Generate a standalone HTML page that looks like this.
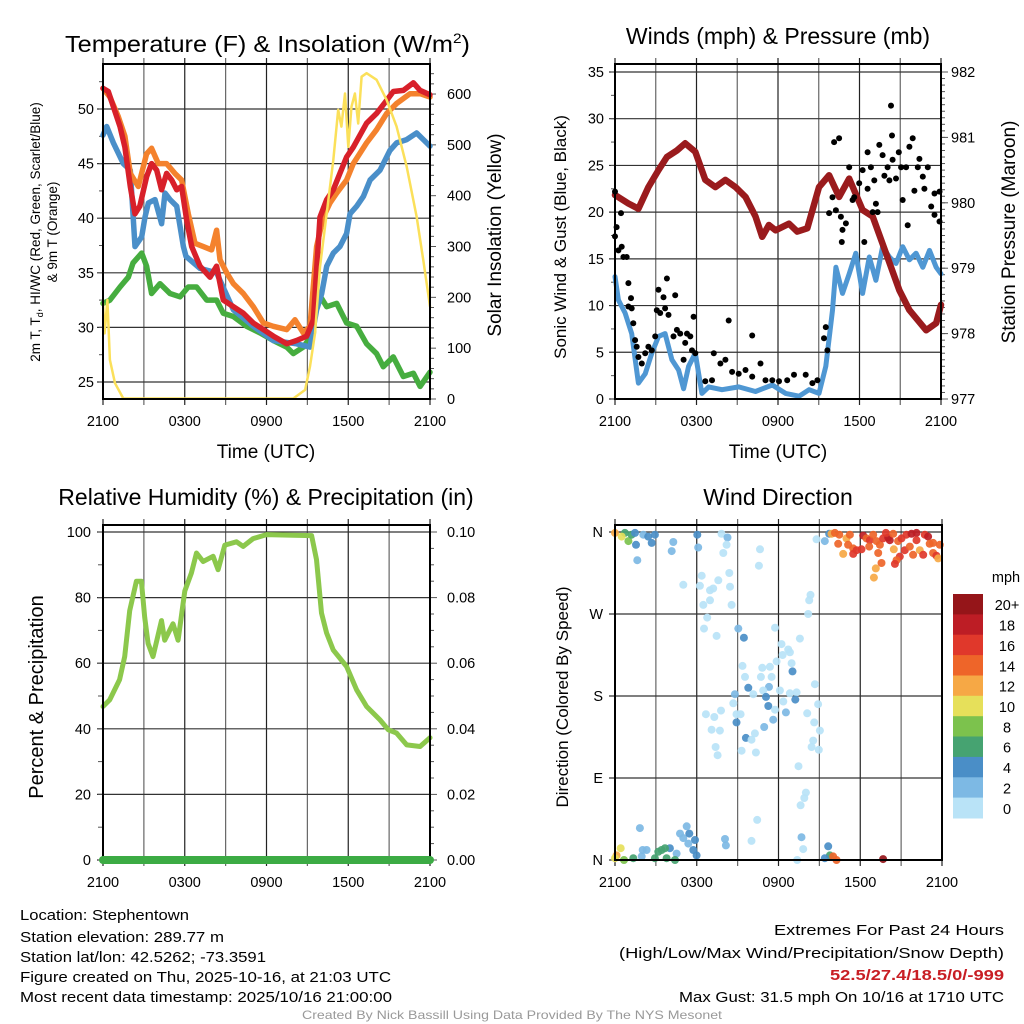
<!DOCTYPE html>
<html><head><meta charset="utf-8"><style>
html,body{margin:0;padding:0;background:#fff;}
svg{display:block;font-family:"Liberation Sans",Arial,sans-serif;}
</style></head><body>
<svg id="chart" width="1024" height="1024" viewBox="0 0 1024 1024" xmlns="http://www.w3.org/2000/svg">
<rect width="1024" height="1024" fill="#fff"/>
<g id="p1"></g>
<g id="p2"></g>
<g id="p3"></g>
<g id="p4"></g>

<text x="65" y="52" font-size="23" textLength="405" lengthAdjust="spacingAndGlyphs">Temperature (F) &amp; Insolation (W/m<tspan font-size="14" dy="-9">2</tspan><tspan dy="9">)</tspan></text>
<text x="778" y="44" font-size="23" text-anchor="middle">Winds (mph) &amp; Pressure (mb)</text>
<text x="266" y="505" font-size="23" text-anchor="middle">Relative Humidity (%) &amp; Precipitation (in)</text>
<text x="778" y="505" font-size="23" text-anchor="middle">Wind Direction</text>

<text x="266" y="458" font-size="19" text-anchor="middle">Time (UTC)</text>
<text x="778" y="458" font-size="19" text-anchor="middle">Time (UTC)</text>

<text transform="translate(40,232) rotate(-90)" font-size="13.5" text-anchor="middle">2m T, T<tspan font-size="9" dy="3">d</tspan><tspan dy="-3">, HI/WC (Red, Green, Scarlet/Blue)</tspan></text>
<text transform="translate(57,232) rotate(-90)" font-size="13.5" text-anchor="middle">&amp; 9m T (Orange)</text>
<text transform="translate(501,235) rotate(-90)" font-size="19" text-anchor="middle">Solar Insolation (Yellow)</text>
<text transform="translate(566,237) rotate(-90)" font-size="17" text-anchor="middle">Sonic Wind &amp; Gust (Blue, Black)</text>
<text transform="translate(1015,232) rotate(-90)" font-size="19" text-anchor="middle">Station Pressure (Maroon)</text>
<text transform="translate(43,697) rotate(-90)" font-size="20" text-anchor="middle">Percent &amp; Precipitation</text>
<text transform="translate(568,697) rotate(-90)" font-size="17" text-anchor="middle">Direction (Colored By Speed)</text>

<g font-size="15">
<text x="20" y="920" textLength="169" lengthAdjust="spacingAndGlyphs">Location: Stephentown</text>
<text x="20" y="942" textLength="204" lengthAdjust="spacingAndGlyphs">Station elevation: 289.77 m</text>
<text x="20" y="962" textLength="246" lengthAdjust="spacingAndGlyphs">Station lat/lon: 42.5262; -73.3591</text>
<text x="20" y="982" textLength="371" lengthAdjust="spacingAndGlyphs">Figure created on Thu, 2025-10-16, at 21:03 UTC</text>
<text x="20" y="1002" textLength="372" lengthAdjust="spacingAndGlyphs">Most recent data timestamp: 2025/10/16 21:00:00</text>
</g>
<g font-size="15">
<text x="774" y="935" textLength="230" lengthAdjust="spacingAndGlyphs">Extremes For Past 24 Hours</text>
<text x="619" y="958" textLength="385" lengthAdjust="spacingAndGlyphs">(High/Low/Max Wind/Precipitation/Snow Depth)</text>
<text x="830" y="980" textLength="174" lengthAdjust="spacingAndGlyphs" fill="#c81e24" font-weight="bold">52.5/27.4/18.5/0/-999</text>
<text x="679" y="1002" textLength="325" lengthAdjust="spacingAndGlyphs">Max Gust: 31.5 mph On 10/16 at 1710 UTC</text>
</g>
<text x="302" y="1019" font-size="12" fill="#999" textLength="420" lengthAdjust="spacingAndGlyphs">Created By Nick Bassill Using Data Provided By The NYS Mesonet</text>
</svg>
<script>
// ---- Temperature panel data (hours since 2100 UTC) ----
const redT=[0,0.39,0.76,1.25,1.61,2.0,2.35,2.7,3.2,3.57,3.94,4.3,4.67,5.04,5.41,5.77,6.14,6.51,7.12,7.85,8.34,8.83,9.57,10.3,11.03,11.77,12.5,13.48,14.21,14.95,15.44,15.93,16.42,16.9,17.39,17.88,18.37,19.35,20.08,20.82,21.31,22.04,22.78,23.27,24];
const redV=[51.9,51.6,50.2,48.4,46.5,42.9,40.4,41.1,43.8,45.0,44.4,42.6,44.1,43.5,42.6,42.9,39.8,37.4,35.6,34.6,35.6,32.5,31.9,31.3,30.4,29.8,29.2,28.5,28.8,29.2,30.7,40.1,41.7,42.6,44.1,45.6,46.5,48.7,49.6,50.8,51.6,51.7,52.4,51.7,51.3];
const orangeT=[0,0.51,1.12,1.61,2.0,2.59,3.2,3.57,4.06,4.67,5.28,5.77,6.26,6.75,7.36,7.97,8.34,8.59,9.08,9.57,10.3,11.03,11.77,12.5,13.48,14.09,14.7,15.19,15.68,16.17,16.66,17.15,17.88,18.37,19.35,20.08,20.82,21.55,22.53,23.27,24];
const orangeV=[51.9,51.1,49.3,47.5,44.1,42.9,45.9,46.4,45.0,45.0,44.1,43.5,40.4,37.7,37.4,37.1,38.9,36.2,35.0,34.0,33.1,31.9,30.4,30.1,29.8,30.7,29.5,30.1,37.4,40.1,41.4,42.3,43.5,45.0,46.9,48.1,49.6,50.5,51.4,51.4,51.1];
const blueT=[0,0.27,0.76,1.49,2.0,2.35,2.84,3.08,3.33,3.82,4.3,4.55,4.92,5.41,5.9,6.09,7.12,8.34,9.57,11.03,12.5,14.21,15.19,15.68,16.05,16.42,16.9,17.39,17.88,18.13,18.62,19.11,19.6,20.33,21.06,21.55,22.29,23.02,23.51,24];
const blueV=[47.6,48.4,46.9,45.0,44.4,37.4,38.3,40.1,41.4,41.7,39.5,42.3,41.7,41.1,37.4,36.5,35.4,35.0,31.6,30.1,28.8,28.5,28.2,31.6,33.1,35.6,36.8,37.4,38.6,40.4,41.1,42.0,43.5,44.4,46.2,46.9,47.2,47.8,47.2,46.6];
const greenT=[0,0.51,1.25,1.86,2.2,2.84,3.2,3.57,4.18,4.92,5.65,6.26,6.87,7.61,8.34,8.83,9.57,10.54,11.52,12.5,13.48,13.97,14.7,15.44,15.68,16.42,17.15,17.88,18.62,19.35,20.08,20.57,21.31,22.04,22.78,23.27,24];
const greenV=[32.2,32.5,33.7,34.6,35.9,36.8,35.6,33.1,34.0,33.1,32.8,33.7,33.7,32.5,32.5,31.3,31.0,30.1,29.5,28.8,28.2,27.6,28.2,29.5,33.4,31.9,32.2,30.4,30.1,28.5,27.6,26.4,27.3,25.5,25.8,24.6,25.9];
const solarT=[0,0.12,0.32,0.51,0.88,1.49,13.97,14.83,15.19,15.56,15.93,16.42,16.9,17.26,17.5,17.76,18.0,18.24,18.49,18.73,18.98,19.35,20.08,20.82,21.55,22.29,23.02,23.51,24];
const solarV=[188,129,195,77,31,1,1,18,64,129,260,365,470,569,536,601,496,575,601,542,634,641,628,588,536,457,359,273,182];
const tempTicks=[25,30,35,40,45,50];
const solarTicks=[0,100,200,300,400,500,600];
const timeLabels=["2100","0300","0900","1500","2100"];

// ---- Winds panel data ----
const windT=[0,0.25,0.74,1.23,1.72,2.22,2.71,3.2,3.69,4.19,4.68,5.05,5.42,5.91,6.4,6.9,7.88,9.11,10.34,11.58,12.56,13.55,14.29,15.02,15.52,16.01,16.26,16.75,17.24,17.73,18.23,18.72,19.21,19.7,20.2,20.69,21.18,21.67,22.17,22.66,23.15,23.65,24];
const windV=[13.1,10.6,9.2,7.0,1.7,2.7,4.9,6.7,7.0,4.2,3.1,1.1,3.5,4.9,0.6,1.3,1.0,1.3,0.8,1.5,0.6,0.3,1.0,0.6,3.5,9.5,14.1,11.3,13.4,15.6,11.3,15.2,12.7,16.3,15.2,14.5,16.3,14.9,15.6,14.1,15.9,14.1,13.4];
const gustT=[0,0.12,0,0.25,0.49,0.62,0.86,0.44,0.99,1.18,0.99,1.23,1.35,1.48,1.6,1.72,1.97,2.22,2.46,2.71,2.96,3.08,3.2,3.57,3.82,3.69,3.94,4.43,3.33,4.31,4.56,4.8,5.3,5.54,5.67,5.17,5.79,5.05,5.91,6.65,7.14,7.27,7.76,8.13,8.37,8.62,9.11,9.61,10.1,10.1,10.71,11.08,11.58,12.07,12.68,13.18,14.04,14.53,14.9,15.39,15.52,15.64,15.76,16.13,16.5,16.01,16.26,16.63,16.75,17.0,16.7,17.24,17.61,17.98,18.23,18.6,18.84,19.09,18.6,19.21,19.33,19.46,19.7,19.83,20.07,20.2,20.32,20.39,20.44,20.69,20.89,21.06,21.18,21.43,21.55,21.67,21.92,22.04,22.29,22.41,22.66,22.78,23.03,23.28,23.52,23.89,23.52,23.89,18.35,18.97,17.49];
const gustV=[22.2,18.4,17.4,15.9,16.3,15.2,15.2,19.9,12.4,10.8,9.9,9.7,8.1,6.3,5.6,4.5,3.8,4.9,5.6,5.2,6.7,9.5,11.7,10.9,12.9,9.7,9.0,11.1,9.2,6.7,7.4,7.0,7.0,6.7,5.2,6.0,8.8,4.2,4.9,1.9,2.0,4.9,3.8,4.2,8.4,2.9,2.7,3.1,6.8,2.4,3.8,2.0,2.0,1.9,2.0,2.6,2.6,1.7,2.0,6.5,7.7,5.2,19.9,27.5,27.9,21.6,20.2,19.5,18.1,18.8,16.8,24.8,21.6,23.1,24.5,26.4,24.8,23.4,22.5,20.9,20.0,27.2,26.1,23.9,24.8,23.4,31.4,28.2,25.6,23.6,26.4,24.8,21.3,24.8,18.6,27.0,27.9,22.3,24.8,25.7,23.8,22.5,24.8,20.6,22.0,22.2,19.7,19.0,16.8,20.0,21.3];
const presT=[0,0.99,1.72,2.46,3.2,3.82,4.56,5.17,5.91,6.65,7.39,8.13,8.87,9.61,10.34,10.84,11.33,11.82,12.81,13.42,14.16,15.02,15.76,16.5,17.24,18.23,18.97,19.95,20.94,21.67,22.91,23.65,24];
const presV=[980.12,979.99,979.91,980.24,980.5,980.7,980.8,980.91,980.78,980.35,980.24,980.35,980.24,980.09,979.79,979.48,979.66,979.58,979.68,979.56,979.61,980.24,980.42,980.09,980.37,979.89,979.79,979.23,978.66,978.36,978.05,978.16,978.44];
const windTicks=[0,5,10,15,20,25,30,35];
const presTicks=[977,978,979,980,981,982];

// ---- Humidity panel data ----
const rhT=[0,0.49,1.22,1.59,1.96,2.45,2.82,3.06,3.31,3.67,4.29,4.53,5.14,5.51,6.0,6.49,6.86,7.35,8.08,8.45,8.94,9.8,10.29,11.02,12.0,13.96,15.31,15.67,16.04,16.41,16.9,17.88,18.61,19.35,20.33,20.94,21.55,22.29,23.27,24];
const rhV=[46.8,48.8,55,62,76,85,85,74,66,62,73,67,72,67,82,87.5,93.6,91,92.6,88.5,96,97,95.6,98,99.2,99,98.9,91.6,75.3,69.2,64,59,51.9,46.8,42.7,39.7,38.7,35.1,34.6,37.3];
const precipT=[0,24];
const precipV=[0,0];
const rhTicks=[0,20,40,60,80,100];
const precipTicks=["0.00","0.02","0.04","0.06","0.08","0.10"];

// ---- Wind direction panel data ----
const dirT=[0,0.73,0.49,0.98,1.22,1.47,2.08,2.44,2.69,2.93,1.54,1.64,4.28,4.16,6.04,6.11,7.82,8.26,8.19,7.95,10.64,10.56,14.79,15.4,15.72,
6.36,8.39,7.58,5.01,6.23,6.97,7.21,8.44,6.97,6.48,8.56,14.35,14.25,14.18,6.77,6.53,7.46,9.05,9.46,11.74,13.57,12.22,12.71,12.3,12.84,11.86,12.96,13.03,9.36,9.54,10.81,11.37,10.71,11.49,14.67,9.78,11.3,10.88,10.15,12.1,8.8,11.08,13.33,12.84,8.68,12.35,13.23,11.25,11.74,12.54,6.67,7.29,7.78,8.92,9.22,8.92,14.11,14.91,14.62,11.61,10.95,7.09,7.7,15.04,10.27,9.61,10.02,14.55,14.43,14.96,7.38,7.53,9.29,10.34,13.47,14.01,13.89,13.62,10.44,10.02,13.37,13.69,13.81,
1.83,2.03,2.32,1.96,5.26,4.77,5.01,5.45,5.87,5.38,5.75,5.99,4.52,4.03,3.42,3.67,3.18,2.93,3.79,4.4,1.34,0.66,0.42,0.12,0,8.07,8.14,15.65,15.77,15.4,16.01,16.26,19.68,
15.89,16.14,16.46,16.99,17.24,16.38,17.11,17.48,17.73,17.48,18.09,16.75,18.22,18.46,18.7,18.95,18.66,19.19,19.44,19.32,19.56,19.14,19.0,19.68,20.05,20.17,19.88,20.42,20.46,20.78,21.03,20.9,20.66,20.54,21.27,21.39,21.76,22.13,22.74,22.98,23.1,21.88,22.37,22.62,23.35,23.59,23.84,23.72,23.35,21.64,22.13];
const dirV=[359,359,355,350,357,359,357,355,348,357,346,329,349,339,357,343,358,354,346,337,341,323,352,350,358,
312,315,307,302,301,296,298,300,285,280,280,291,285,270,266,254,246,254,244,255,243,237,231,225,228,218,216,207,213,201,211,212,201,201,193,189,190,186,182,186,182,179,184,183,172,174,176,169,165,162,160,157,164,160,160,151,161,171,151,154,146,143,142,142,139,134,132,131,124,121,124,115,120,118,103,74,68,60,44,21,0,25,12,
35,11,11,4,37,29,24,29,22,18,11,5,7,13,11,13,9,2,2,0,2,0,13,5,2,23,16,15,5,2,4,0,1,
358,359,357,353,357,347,346,342,340,336,341,336,356,353,351,357,344,350,346,337,326,320,310,353,354,351,359,358,341,350,353,333,329,325,340,357,358,359,357,355,347,335,340,335,337,334,346,331,348,344,351];
const dirSpd=[12,6,10,8,6,4,2,4,4,4,4,2,2,2,4,2,0,2,0,0,0,0,0,2,4,
0,0,0,0,0,0,0,0,0,0,0,0,0,0,0,0,0,2,4,0,0,0,0,0,0,0,0,4,0,0,0,0,0,0,0,4,2,0,0,0,2,4,0,0,0,0,4,4,0,2,0,0,0,0,0,4,0,0,0,2,2,0,0,0,0,4,0,0,0,0,0,0,0,0,0,0,0,0,0,0,0,2,0,
2,2,2,2,2,2,2,4,4,2,4,4,2,4,6,6,6,6,6,6,6,8,10,12,10,2,2,4,6,4,14,14,20,
12,14,14,12,14,14,14,14,16,16,16,12,18,14,16,14,14,14,14,14,14,12,12,16,18,18,16,14,12,14,16,16,14,16,16,16,18,18,16,18,14,14,12,16,14,16,14,12,14,14,16];
const dirLabels=["N","E","S","W","N"];
const speedBins=["0","2","4","6","8","10","12","14","16","18","20+"];
const speedColors=["#b9e3f7","#7db9e4","#4a8ec7","#46a371","#7cc24d","#e6e05a","#f6a845","#ee6529","#e0382b","#bd1d25","#951519"];

const NS="http://www.w3.org/2000/svg";
function mk(parent,tag,attrs){const e=document.createElementNS(NS,tag);for(const k in attrs)e.setAttribute(k,attrs[k]);parent.appendChild(e);return e;}

// generic panel frame
function frame(g,L,R,T,B,name){
  // vertical grid every 3h + top/bottom ticks
  const xs=h=>L+(R-L)*h/24;
  for(let h=0;h<=24;h+=3){
    const x=xs(h);
    const ln=mk(g,'line',{x1:x,x2:x,y1:T-6,y2:B+6,stroke:(h%6==0)?'#222':'#666','stroke-width':1.2});
    
    
  }
  for(let i=0;i<timeLabels.length;i++){
    const t=mk(g,'text',{x:xs(i*6),y:B+27,'font-size':14.5,'text-anchor':'middle'});
    t.textContent=timeLabels[i];
    
    
  }
  return xs;
}
function box(g,L,R,T,B){
  const r=mk(g,'rect',{x:L,y:T,width:R-L,height:B-T,fill:'none',stroke:'#000','stroke-width':2});
  
  
}
function hgrid(g,L,R,y){
  const ln=mk(g,'line',{x1:L-6,x2:R,y1:y,y2:y,stroke:'#333','stroke-width':1.2});
  
  
}
function tick(g,x1,x2,y){mk(g,'line',{x1:x1,x2:x2,y1:y,y2:y,stroke:'#555','stroke-width':1});}
function label(g,x,y,txt,anchor,name,size){
  const t=mk(g,'text',{x:x,y:y+5,'font-size':size||14.5,'text-anchor':anchor});
  t.textContent=txt;
  
  
}
function line(g,ts,vs,xf,yf,color,w,name){
  let d='';
  for(let i=0;i<ts.length;i++)d+=(i?'L':'M')+xf(ts[i]).toFixed(1)+','+yf(vs[i]).toFixed(1);
  const p=mk(g,'path',{d:d,fill:'none',stroke:color,'stroke-width':w,'stroke-linejoin':'round','stroke-linecap':'round'});
  
  
}

// ===== Panel 1 =====
(function(){
  const g=document.getElementById('p1');
  const L=103,R=430,T=64,B=399;
  const xs=frame(g,L,R,T,B);
  const yT=v=>382-(v-25)*10.92;
  const yS=w=>399-w*0.5083;
  for(const v of tempTicks){hgrid(g,L,R,yT(v));label(g,L-9,yT(v),String(v),'end','temp-tick-label');}
  for(let v=22.5;v<=55;v+=2.5){const y=yT(v);if(y>T&&y<B)tick(g,L-4,L,y);}
  for(let w=0;w<=640;w+=20){const y=yS(w);if(y>=T&&y<=B)tick(g,R,R+(w%100==0?6:4),y);}
  for(const w of solarTicks)label(g,R+17,yS(w),String(w),'start','solar-tick-label');
  line(g,greenT,greenV,xs,yT,'#46ad3f',5.5,'heat-index-line');
  line(g,blueT,blueV,xs,yT,'#4a8fc9',5.5,'dewpoint-line');
  line(g,orangeT,orangeV,xs,yT,'#f4822d',5.5,'temp-9m-line');
  line(g,redT,redV,xs,yT,'#d8202a',5.5,'temp-2m-line');
  line(g,solarT,solarV,xs,yS,'#fbe05a',2.5,'solar-line');
  box(g,L,R,T,B);
})();

// ===== Panel 2 =====
(function(){
  const g=document.getElementById('p2');
  const L=615,R=941,T=64,B=399;
  const xs=frame(g,L,R,T,B);
  const yW=v=>399-v*9.343;
  const yP=p=>399-(p-977)*65.4;
  for(const v of windTicks){hgrid(g,L,R,yW(v));label(g,L-11,yW(v),String(v),'end','wind-tick-label');}
  for(let v=0;v<=35;v+=2.5)tick(g,L-4,L,yW(v));
  for(let p=977;p<=982.05;p+=0.1){const y=yP(p);tick(g,R,R+4,y);}
  for(const p of presTicks){tick(g,R,R+7,yP(p));label(g,R+10,yP(p),String(p),'start','pressure-tick-label');}
  line(g,windT,windV,xs,yW,'#4f97d3',5,'sonic-wind-line');
  line(g,presT,presV,xs,yP,'#9a1b1d',6.5,'pressure-line');
  for(let i=0;i<gustT.length;i++){
    const c=mk(g,'circle',{cx:xs(gustT[i]).toFixed(1),cy:yW(gustV[i]).toFixed(1),r:3,fill:'#000'});
    
    
  }
  box(g,L,R,T,B);
})();

// ===== Panel 3 =====
(function(){
  const g=document.getElementById('p3');
  const L=103,R=430,T=525,B=860;
  const xs=frame(g,L,R,T,B);
  const yH=v=>860-v*3.28;
  for(const v of rhTicks){hgrid(g,L,R,yH(v));label(g,L-12,yH(v),String(v),'end','humidity-tick-label');}
  for(let v=0;v<=100;v+=10)tick(g,L-5,L,yH(v));
  for(let v=0;v<=100;v+=5)tick(g,R,R+(v%20==0?7:4),yH(v));
  for(let i=0;i<precipTicks.length;i++)label(g,R+17,yH(i*20),precipTicks[i],'start','precip-tick-label');
  line(g,rhT,rhV,xs,yH,'#8cc84c',5,'humidity-line');
  box(g,L,R,T,B);
  line(g,precipT,precipV,xs,yH,'#3cab44',8,'precip-line');
})();

// ===== Panel 4 =====
(function(){
  const g=document.getElementById('p4');
  const L=615,R=942,T=525,B=860;
  const xs=frame(g,L,R,T,B);
  const yD=d=>860-d*(328/360);
  for(let i=0;i<dirLabels.length;i++){const y=yD(i*90);hgrid(g,L,R,y);label(g,L-12,y,dirLabels[i],'end','direction-tick-label');}
  for(let i=0;i<dirT.length;i++){
    const bin=Math.min(10,Math.floor(dirSpd[i]/2));
    const c=mk(g,'circle',{cx:xs(dirT[i]).toFixed(1),cy:yD(dirV[i]).toFixed(1),r:4,fill:speedColors[bin],'fill-opacity':0.92});
    
    
  }
  box(g,L,R,T,B);
  // colorbar
  const cbT=594,cbH=224/11;
  for(let i=0;i<speedBins.length;i++){
    const k=speedBins.length-1-i;
    const r=mk(g,'rect',{x:953,y:(cbT+i*cbH).toFixed(1),width:30,height:(cbH+0.5).toFixed(1),fill:speedColors[k]});
    
    
    label(g,1007,cbT+i*cbH+cbH/2+1,speedBins[k],'middle','colorbar-label',14.5);
  }
  label(g,1006,577,'mph','middle','colorbar-unit',14.5);
})();
</script>
</body></html>
